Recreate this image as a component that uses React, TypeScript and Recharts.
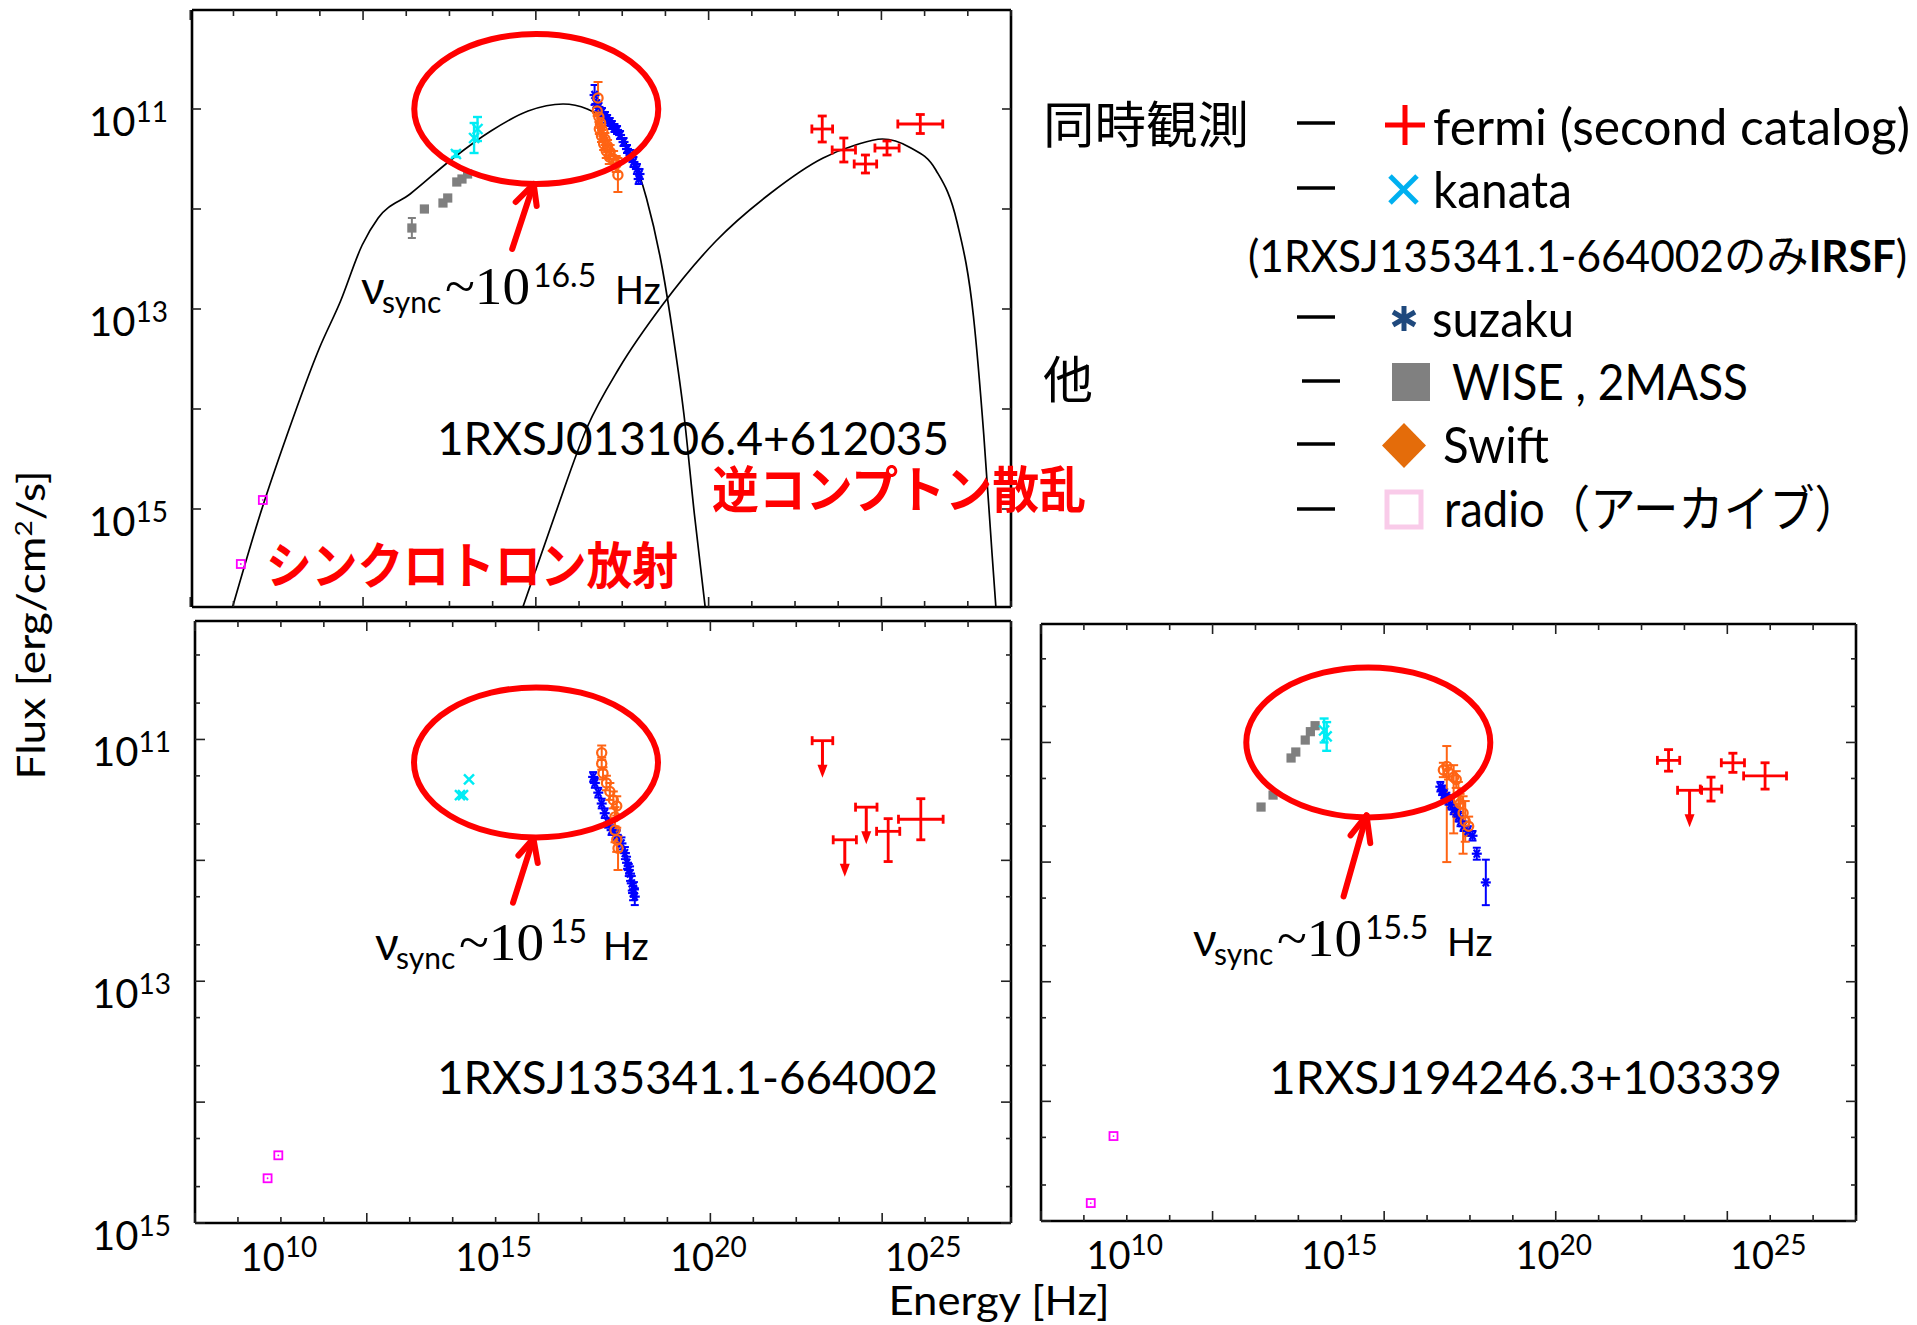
import React from 'react';
import { ComposedChart, Scatter, Line, XAxis, YAxis, ErrorBar, ReferenceDot } from 'recharts';

const W = 1917;
const H = 1325;
const LATIN = "Lato, 'Open Sans', 'DejaVu Sans', sans-serif";
const CJK = "'Noto Sans CJK JP', 'Noto Sans', sans-serif";
const SERIF = "'Liberation Serif', 'DejaVu Serif', serif";

// x: log10 frequency [Hz], y: log10 flux [erg/cm2/s]
// ex / ey: errors in decades (number = symmetric, [lower, upper] = asymmetric)

// ---------- 1RXSJ013106.4+612035 ----------
const topFermi = [
  { x: 22.63, y: -11.2, ex: 0.24, ey: 0.13 },
  { x: 23.13, y: -11.41, ex: 0.27, ey: 0.12 },
  { x: 23.63, y: -11.55, ex: 0.26, ey: 0.09 },
  { x: 24.13, y: -11.39, ex: 0.28, ey: 0.07 },
  { x: 24.9, y: -11.15, ex: 0.52, ey: 0.095 },
];
const topKanata = [
  { x: 14.15, y: -11.45, ey: 0.03 },
  { x: 14.57, y: -11.29, ey: 0.15 },
  { x: 14.65, y: -11.2, ey: 0.12 },
];
const topWise = [
  { x: 13.13, y: -12.19, ey: 0.1 },
  { x: 13.42, y: -12.0 },
  { x: 13.85, y: -11.94 },
  { x: 13.96, y: -11.89 },
  { x: 14.17, y: -11.73 },
  { x: 14.29, y: -11.7 },
  { x: 14.42, y: -11.65 },
];
const topSwift = [
  { x: 17.44, y: -10.89, ey: 0.16 },
  { x: 17.42, y: -11.02, ey: 0.05 },
  { x: 17.46, y: -11.08, ey: 0.05 },
  { x: 17.5, y: -11.14, ey: 0.05 },
  { x: 17.47, y: -11.2, ey: 0.05 },
  { x: 17.55, y: -11.22, ey: 0.05 },
  { x: 17.52, y: -11.27, ey: 0.06 },
  { x: 17.6, y: -11.3, ey: 0.06 },
  { x: 17.57, y: -11.35, ey: 0.06 },
  { x: 17.66, y: -11.37, ey: 0.06 },
  { x: 17.63, y: -11.42, ey: 0.07 },
  { x: 17.72, y: -11.43, ey: 0.07 },
  { x: 17.7, y: -11.48, ey: 0.07 },
  { x: 17.8, y: -11.5, ey: 0.08 },
  { x: 17.86, y: -11.55, ey: 0.08 },
  { x: 17.9, y: -11.66, ey: 0.17 },
];
const topSuzaku = [
  { x: 17.36, y: -10.86, ey: 0.1 },
  { x: 17.4, y: -10.95, ey: 0.04 },
  { x: 17.45, y: -10.98, ey: 0.04 },
  { x: 17.53, y: -11.03, ey: 0.04 },
  { x: 17.6, y: -11.07, ey: 0.04 },
  { x: 17.65, y: -11.1, ey: 0.04 },
  { x: 17.71, y: -11.13, ey: 0.04 },
  { x: 17.76, y: -11.16, ey: 0.04 },
  { x: 17.82, y: -11.19, ey: 0.04 },
  { x: 17.88, y: -11.21, ey: 0.04 },
  { x: 17.95, y: -11.26, ey: 0.04 },
  { x: 18.03, y: -11.33, ey: 0.04 },
  { x: 18.11, y: -11.4, ey: 0.04 },
  { x: 18.19, y: -11.46, ey: 0.05 },
  { x: 18.26, y: -11.53, ey: 0.05 },
  { x: 18.34, y: -11.6, ey: 0.05 },
  { x: 18.4, y: -11.65, ey: 0.05 },
  { x: 18.38, y: -11.7, ey: 0.05 },
];
const topRadio = [
  { x: 9.17, y: -15.55 },
  { x: 9.68, y: -14.91 },
];
const topSyncModel = [
  { x: 8.98, y: -15.98 }, { x: 9.62, y: -15.05 }, { x: 10.24, y: -14.26 }, { x: 10.99, y: -13.39 },
  { x: 11.48, y: -12.92 }, { x: 11.98, y: -12.36 }, { x: 12.35, y: -12.09 }, { x: 13.09, y: -11.85 },
  { x: 14.09, y: -11.49 }, { x: 14.96, y: -11.22 }, { x: 15.82, y: -11.02 }, { x: 16.63, y: -10.95 },
  { x: 17.19, y: -11.0 }, { x: 17.69, y: -11.14 }, { x: 18.18, y: -11.42 }, { x: 18.56, y: -11.89 },
  { x: 18.93, y: -12.6 }, { x: 19.18, y: -13.27 }, { x: 19.43, y: -14.06 }, { x: 19.67, y: -15.05 },
  { x: 19.92, y: -15.98 },
];
const topIcModel = [
  { x: 15.7, y: -15.98 }, { x: 16.45, y: -15.05 }, { x: 17.19, y: -14.18 }, { x: 17.93, y: -13.59 },
  { x: 18.93, y: -12.96 }, { x: 20.17, y: -12.32 }, { x: 21.41, y: -11.85 }, { x: 22.65, y: -11.49 },
  { x: 23.4, y: -11.36 }, { x: 24.02, y: -11.3 }, { x: 24.64, y: -11.38 }, { x: 25.26, y: -11.61 },
  { x: 25.75, y: -12.13 }, { x: 26.13, y: -13.07 }, { x: 26.37, y: -14.26 }, { x: 26.56, y: -15.44 },
  { x: 26.65, y: -15.98 },
];

// ---------- 1RXSJ135341.1-664002 ----------
const blFermi = [
  { x: 24.14, y: -11.76, ex: 0.27, ey: [0.25, 0.105] },
  { x: 24.9, y: -11.66, ex: 0.52, ey: 0.17 },
];
const blFermiUpper = [
  { x: 22.61, y: -11.01, ex: 0.24 },
  { x: 23.13, y: -11.83, ex: 0.27 },
  { x: 23.63, y: -11.56, ex: 0.25 },
];
const blKanata = [
  { x: 14.38, y: -11.33 },
  { x: 14.24, y: -11.46 },
  { x: 14.17, y: -11.46 },
];
const blSwift = [
  { x: 17.47, y: -11.11, ey: 0.06 },
  { x: 17.47, y: -11.2, ey: 0.05 },
  { x: 17.5, y: -11.28, ey: 0.05 },
  { x: 17.58, y: -11.36, ey: 0.06 },
  { x: 17.66, y: -11.43, ey: 0.07 },
  { x: 17.74, y: -11.5, ey: 0.07 },
  { x: 17.82, y: -11.55, ey: 0.08 },
  { x: 17.78, y: -11.64, ey: 0.08 },
  { x: 17.78, y: -11.75, ey: 0.1 },
  { x: 17.82, y: -11.83, ey: 0.1 },
  { x: 17.85, y: -11.9, ey: [0.18, 0.1] },
];
const blSuzaku = [
  { x: 17.27, y: -11.31, ey: 0.04 },
  { x: 17.31, y: -11.36, ey: 0.04 },
  { x: 17.39, y: -11.44, ey: 0.04 },
  { x: 17.47, y: -11.53, ey: 0.04 },
  { x: 17.54, y: -11.61, ey: 0.04 },
  { x: 17.62, y: -11.69, ey: 0.04 },
  { x: 17.7, y: -11.75, ey: 0.04 },
  { x: 17.82, y: -11.79, ey: 0.04 },
  { x: 17.93, y: -11.86, ey: 0.05 },
  { x: 18.01, y: -11.94, ey: 0.05 },
  { x: 18.06, y: -12.02, ey: 0.05 },
  { x: 18.1, y: -12.08, ey: 0.05 },
  { x: 18.13, y: -12.11, ey: 0.06 },
  { x: 18.17, y: -12.19, ey: 0.06 },
  { x: 18.2, y: -12.27, ey: 0.06 },
  { x: 18.22, y: -12.24, ey: 0.06 },
  { x: 18.24, y: -12.3, ey: 0.07 },
];
const blRadio = [
  { x: 9.69, y: -14.63 },
  { x: 9.94, y: -14.44 },
];

// ---------- 1RXSJ194246.3+103339 ----------
const brFermi = [
  { x: 22.63, y: -11.15, ex: 0.26, ey: 0.09 },
  { x: 23.62, y: -11.39, ex: 0.25, ey: 0.1 },
  { x: 24.13, y: -11.17, ex: 0.27, ey: 0.08 },
  { x: 24.88, y: -11.28, ex: 0.5, ey: 0.11 },
];
const brFermiUpper = [{ x: 23.12, y: -11.4, ex: 0.28 }];
const brKanata = [
  { x: 14.6, y: -10.9, ey: 0.1 },
  { x: 14.66, y: -10.95, ey: 0.12 },
];
const brWise = [
  { x: 13.13, y: -11.54 },
  { x: 13.41, y: -11.44 },
  { x: 13.83, y: -11.13 },
  { x: 13.94, y: -11.08 },
  { x: 14.16, y: -10.98 },
  { x: 14.28, y: -10.91 },
  { x: 14.39, y: -10.86 },
];
const brSwift = [
  { x: 17.46, y: -11.2, ey: [0.8, 0.17] },
  { x: 17.38, y: -11.23, ey: 0.06 },
  { x: 17.5, y: -11.25, ey: 0.06 },
  { x: 17.62, y: -11.29, ey: [0.47, 0.1] },
  { x: 17.68, y: -11.31, ey: 0.07 },
  { x: 17.73, y: -11.48, ey: 0.15 },
  { x: 17.77, y: -11.51, ey: 0.08 },
  { x: 17.84, y: -11.59, ey: [0.34, 0.14] },
  { x: 17.89, y: -11.66, ey: 0.17 },
  { x: 17.97, y: -11.7, ey: 0.08 },
];
const brSuzaku = [
  { x: 17.31, y: -11.37, ey: 0.04 },
  { x: 17.35, y: -11.4, ey: 0.04 },
  { x: 17.4, y: -11.43, ey: 0.04 },
  { x: 17.45, y: -11.46, ey: 0.04 },
  { x: 17.5, y: -11.48, ey: 0.04 },
  { x: 17.55, y: -11.52, ey: 0.04 },
  { x: 17.62, y: -11.56, ey: 0.04 },
  { x: 17.68, y: -11.58, ey: 0.04 },
  { x: 17.73, y: -11.62, ey: 0.04 },
  { x: 17.78, y: -11.66, ey: 0.04 },
  { x: 17.85, y: -11.7, ey: 0.04 },
  { x: 17.95, y: -11.74, ey: 0.04 },
  { x: 18.06, y: -11.78, ey: 0.04 },
  { x: 18.16, y: -11.93, ey: 0.05 },
  { x: 18.37, y: -12.17, ey: 0.19 },
];
const brRadio = [
  { x: 9.16, y: -14.85 },
  { x: 9.69, y: -14.29 },
];

// peak markers: ellipse centre and arrow tip (log ν, log flux)
const topPeakMark = { cx: 16.01, cy: -11.0, tipX: 15.95, tipY: -11.75 };
const blPeakMark = { cx: 15.94, cy: -11.19, tipX: 15.88, tipY: -11.82 };
const brPeakMark = { cx: 15.63, cy: -11.0, tipX: 15.59, tipY: -11.61 };

// axis ticks
const xTickValues = [8, 9, 10, 11, 12, 13, 14, 15, 16, 17, 18, 19, 20, 21, 22, 23, 24, 25, 26, 27];
const xLongTicks = [8, 12, 16, 20, 24];
const xTickLabels = [10, 15, 20, 25];
const yDecades = [-15, -14, -13, -12, -11];
const yMinorMultipliers = [2, 5];
const yTickLabels = [-15, -13, -11];

const bottomYTicks = yDecades
  .flatMap((d) => [d, ...yMinorMultipliers.map((m) => d + Math.log10(m))])
  .sort((a, b) => a - b);

const COL = {
  fermi: '#ff0000',
  kanata: '#00ecf4',
  suzaku: '#0000ff',
  swift: '#ff6414',
  wise: '#7f7f7f',
  radio: '#ff00ff',
  mark: '#ff0000',
};

type Frame = { left: number; top: number; right: number; bottom: number };

const isDecade = (v: number) => Math.abs(v - Math.round(v)) < 1e-6;

const xTickRenderer = (side: 'top' | 'bottom', showLabels: boolean) => (p: any) => {
  const v = p.payload.value;
  const len = xLongTicks.includes(v) ? 10 : 6;
  const dir = side === 'bottom' ? -1 : 1;
  return (
    <g>
      <line x1={p.x} y1={p.y} x2={p.x} y2={p.y + dir * len} stroke="#222" strokeWidth={1.6} />
      {showLabels && side === 'bottom' && xTickLabels.includes(v) && (
        <text x={p.x - 2} y={p.y + 48} textAnchor="middle" fontFamily={LATIN} fontSize={38} fill="#000">
          10<tspan dy={-14} fontSize={28}>{v}</tspan>
        </text>
      )}
    </g>
  );
};

const yTickRenderer = (side: 'left' | 'right', showLabels: boolean, minorStyle: boolean) => (p: any) => {
  const v = p.payload.value;
  const len = minorStyle ? (isDecade(v) ? 10 : 5) : 9;
  const dir = side === 'left' ? 1 : -1;
  const labelled = showLabels && side === 'left' && yTickLabels.some((t) => Math.abs(t - v) < 1e-6);
  return (
    <g>
      <line x1={p.x} y1={p.y} x2={p.x + dir * len} y2={p.y} stroke="#222" strokeWidth={1.6} />
      {labelled && (
        <text x={p.x - 24} y={p.y + 27} textAnchor="end" fontFamily={LATIN} fontSize={40} fill="#000">
          10<tspan dy={-14} fontSize={28}>{Math.round(-v)}</tspan>
        </text>
      )}
    </g>
  );
};

// marker shapes
const noMarker = () => <g />;

const upperLimitShape = (p: any) => (
  <g>
    <line x1={p.cx} y1={p.cy} x2={p.cx} y2={p.cy + 28} stroke={COL.fermi} strokeWidth={3} />
    <path d={`M${p.cx - 5},${p.cy + 24} L${p.cx + 5},${p.cy + 24} L${p.cx},${p.cy + 37} Z`} fill={COL.fermi} />
  </g>
);

const crossShape = (color: string, r: number, sw: number) => (p: any) => (
  <g stroke={color} strokeWidth={sw}>
    <line x1={p.cx - r} y1={p.cy - r} x2={p.cx + r} y2={p.cy + r} />
    <line x1={p.cx - r} y1={p.cy + r} x2={p.cx + r} y2={p.cy - r} />
  </g>
);

const asteriskShape = (color: string, r: number) => (p: any) => (
  <g stroke={color} strokeWidth={2.2}>
    <line x1={p.cx - r} y1={p.cy} x2={p.cx + r} y2={p.cy} />
    <line x1={p.cx - r * 0.6} y1={p.cy - r * 0.8} x2={p.cx + r * 0.6} y2={p.cy + r * 0.8} />
    <line x1={p.cx + r * 0.6} y1={p.cy - r * 0.8} x2={p.cx - r * 0.6} y2={p.cy + r * 0.8} />
  </g>
);

const circleShape = (p: any) => (
  <circle cx={p.cx} cy={p.cy} r={4.6} fill="none" stroke={COL.swift} strokeWidth={2.2} />
);

const squareShape = (p: any) => <rect x={p.cx - 4.6} y={p.cy - 4.6} width={9.2} height={9.2} fill={COL.wise} />;

const radioShape = (p: any) => (
  <g>
    <rect x={p.cx - 4} y={p.cy - 4} width={8} height={8} fill="none" stroke={COL.radio} strokeWidth={1.8} />
    <circle cx={p.cx} cy={p.cy} r={0.9} fill={COL.radio} />
  </g>
);

const ellipseShape = (p: any) => (
  <ellipse cx={p.cx} cy={p.cy} rx={122} ry={75} fill="none" stroke={COL.mark} strokeWidth={6} />
);

const arrowShape = (tail: number[], wingL: number[], wingR: number[]) => (p: any) => (
  <g stroke={COL.mark} strokeWidth={6} strokeLinecap="round" strokeLinejoin="round" fill="none">
    <line x1={p.cx + tail[0]} y1={p.cy + tail[1]} x2={p.cx} y2={p.cy} />
    <polyline points={`${p.cx + wingL[0]},${p.cy + wingL[1]} ${p.cx},${p.cy} ${p.cx + wingR[0]},${p.cy + wingR[1]}`} />
  </g>
);

const AX = { xAxisId: 'b', yAxisId: 'l' };

type PanelData = {
  fermi: any[];
  fermiUpper: any[];
  kanata: any[];
  wise: any[];
  swift: any[];
  suzaku: any[];
  radio: any[];
  sync?: any[];
  ic?: any[];
};

function Panel(props: {
  frame: Frame;
  xDomain: [number, number];
  yDomain: [number, number];
  yTicks: number[];
  minorY: boolean;
  showXLabels: boolean;
  showYLabels: boolean;
  data: PanelData;
  mark: { cx: number; cy: number; tipX: number; tipY: number };
  arrow: { tail: number[]; wingL: number[]; wingR: number[] };
}) {
  const { frame, xDomain, yDomain, yTicks, minorY, showXLabels, showYLabels, data, mark, arrow } = props;
  const axisLine = { stroke: '#000', strokeWidth: 2.6 };
  const common = { type: 'number' as const, allowDataOverflow: true, tickSize: 0, tickMargin: 0, interval: 0 as const };
  // each axis band is 1px wide, so the plot area lands exactly on the frame
  return (
    <div style={{ position: 'absolute', left: 0, top: 0 }}>
      <ComposedChart
        width={W}
        height={H}
        margin={{ top: frame.top - 1, left: frame.left - 1, right: W - frame.right - 1, bottom: H - frame.bottom - 1 }}
      >
        <XAxis xAxisId="b" orientation="bottom" dataKey="x" domain={xDomain} ticks={xTickValues} height={1}
          axisLine={axisLine} tickLine={false} tick={xTickRenderer('bottom', showXLabels)} {...common} />
        <XAxis xAxisId="t" orientation="top" dataKey="x" domain={xDomain} ticks={xTickValues} height={1}
          axisLine={axisLine} tickLine={false} tick={xTickRenderer('top', false)} {...common} />
        <YAxis yAxisId="l" orientation="left" dataKey="y" domain={yDomain} ticks={yTicks} width={1}
          axisLine={axisLine} tickLine={false} tick={yTickRenderer('left', showYLabels, minorY)} {...common} />
        <YAxis yAxisId="r" orientation="right" dataKey="y" domain={yDomain} ticks={yTicks} width={1}
          axisLine={axisLine} tickLine={false} tick={yTickRenderer('right', false, minorY)} {...common} />

        {data.sync && (
          <Line {...AX} data={data.sync} dataKey="y" type="monotone" dot={false} stroke="#000" strokeWidth={1.7}
            isAnimationActive={false} />
        )}
        {data.ic && (
          <Line {...AX} data={data.ic} dataKey="y" type="monotone" dot={false} stroke="#000" strokeWidth={1.7}
            isAnimationActive={false} />
        )}

        <Scatter {...AX} name="radio" data={data.radio} shape={radioShape} isAnimationActive={false} />
        <Scatter {...AX} name="WISE, 2MASS" data={data.wise} shape={squareShape} isAnimationActive={false}>
          <ErrorBar dataKey="ey" direction="y" width={4} stroke={COL.wise} strokeWidth={2} isAnimationActive={false} />
        </Scatter>
        <Scatter {...AX} name="kanata" data={data.kanata} shape={crossShape(COL.kanata, 5, 2.4)} isAnimationActive={false}>
          <ErrorBar dataKey="ey" direction="y" width={4.5} stroke={COL.kanata} strokeWidth={2.4} isAnimationActive={false} />
        </Scatter>
        <Scatter {...AX} name="suzaku" data={data.suzaku} shape={asteriskShape(COL.suzaku, 5)} isAnimationActive={false}>
          <ErrorBar dataKey="ey" direction="y" width={4} stroke={COL.suzaku} strokeWidth={2} isAnimationActive={false} />
        </Scatter>
        <Scatter {...AX} name="Swift" data={data.swift} shape={circleShape} isAnimationActive={false}>
          <ErrorBar dataKey="ey" direction="y" width={4.5} stroke={COL.swift} strokeWidth={2} isAnimationActive={false} />
        </Scatter>
        <Scatter {...AX} name="fermi" data={data.fermi} shape={noMarker} isAnimationActive={false}>
          <ErrorBar dataKey="ex" direction="x" width={4.5} stroke={COL.fermi} strokeWidth={2.8} isAnimationActive={false} />
          <ErrorBar dataKey="ey" direction="y" width={4.5} stroke={COL.fermi} strokeWidth={2.8} isAnimationActive={false} />
        </Scatter>
        <Scatter {...AX} name="fermi upper limit" data={data.fermiUpper} shape={upperLimitShape} isAnimationActive={false}>
          <ErrorBar dataKey="ex" direction="x" width={4.5} stroke={COL.fermi} strokeWidth={2.8} isAnimationActive={false} />
        </Scatter>

        <ReferenceDot {...AX} x={mark.cx} y={mark.cy} r={0} ifOverflow="visible" shape={ellipseShape} />
        <ReferenceDot {...AX} x={mark.tipX} y={mark.tipY} r={0} ifOverflow="visible"
          shape={arrowShape(arrow.tail, arrow.wingL, arrow.wingR)} />
      </ComposedChart>
    </div>
  );
}

function SyncLabel({ x, y, exp, expX, hzX }: { x: number; y: number; exp: string; expX: number; hzX: number }) {
  return (
    <g fill="#000">
      <text x={x} y={y} fontFamily={LATIN} fontSize={46}>ν</text>
      <text x={x + 21} y={y + 9} fontFamily={LATIN} fontSize={30}>sync</text>
      <text x={x + 84} y={y} fontFamily={SERIF} fontSize={52} textLength={85} lengthAdjust="spacingAndGlyphs">~10</text>
      <text x={expX} y={y - 17} fontFamily={LATIN} fontSize={32}>{exp}</text>
      <text x={hzX} y={y} fontFamily={LATIN} fontSize={38}>Hz</text>
    </g>
  );
}

function Annotations() {
  const dash = (y: number, x1 = 1297, x2 = 1335) => (
    <line x1={x1} y1={y} x2={x2} y2={y} stroke="#000" strokeWidth={3.5} />
  );
  return (
    <svg width={W} height={H} style={{ position: 'absolute', left: 0, top: 0 }}>
      {/* axis titles */}
      <text transform="translate(45,625) rotate(-90)" textAnchor="middle" fontFamily={LATIN} fontSize={38}
        textLength={309} lengthAdjust="spacingAndGlyphs" fill="#000">
        Flux [erg/cm<tspan dy={-13} fontSize={24}>2</tspan><tspan dy={13}>/s]</tspan>
      </text>
      <text x={999} y={1315} textAnchor="middle" fontFamily={LATIN} fontSize={40} textLength={221}
        lengthAdjust="spacingAndGlyphs" fill="#000">Energy [Hz]</text>

      {/* source names */}
      <text x={437} y={455} fontFamily={LATIN} fontSize={47} textLength={512} lengthAdjust="spacingAndGlyphs">
        1RXSJ013106.4+612035
      </text>
      <text x={437} y={1094} fontFamily={LATIN} fontSize={47} textLength={501} lengthAdjust="spacingAndGlyphs">
        1RXSJ135341.1-664002
      </text>
      <text x={1269} y={1094} fontFamily={LATIN} fontSize={47} textLength={513} lengthAdjust="spacingAndGlyphs">
        1RXSJ194246.3+103339
      </text>

      {/* emission components */}
      <text x={266} y={584} fontFamily={CJK} fontWeight={700} fontSize={50} fill="#ff0000" textLength={412}
        lengthAdjust="spacingAndGlyphs">シンクロトロン放射</text>
      <text x={712} y={508} fontFamily={CJK} fontWeight={700} fontSize={50} fill="#ff0000" textLength={374}
        lengthAdjust="spacingAndGlyphs">逆コンプトン散乱</text>

      {/* synchrotron peak frequencies */}
      <SyncLabel x={361} y={304} exp="16.5" expX={533} hzX={615} />
      <SyncLabel x={375} y={960} exp="15" expX={550} hzX={603} />
      <SyncLabel x={1193} y={956} exp="15.5" expX={1365} hzX={1447} />

      {/* legend */}
      <text x={1043} y={143} fontFamily={CJK} fontSize={50} textLength={206} lengthAdjust="spacingAndGlyphs">同時観測</text>
      <text x={1043} y={398} fontFamily={CJK} fontSize={50}>他</text>
      {dash(123)}
      {dash(188)}
      {dash(317)}
      {dash(381, 1302, 1340)}
      {dash(444)}
      {dash(509)}

      <g stroke={COL.fermi} strokeWidth={5}>
        <line x1={1385} y1={125} x2={1425} y2={125} />
        <line x1={1405} y1={105} x2={1405} y2={145} />
      </g>
      <g stroke="#00b0f0" strokeWidth={5}>
        <line x1={1390} y1={176} x2={1417} y2={203} />
        <line x1={1390} y1={203} x2={1417} y2={176} />
      </g>
      <g stroke="#1f497d" strokeWidth={5}>
        <line x1={1404} y1={306} x2={1404} y2={331} />
        <line x1={1393} y1={312} x2={1415} y2={325} />
        <line x1={1393} y1={325} x2={1415} y2={312} />
      </g>
      <rect x={1392} y={363} width={38} height={38} fill="#808080" />
      <path d="M1404,423 L1426,445.5 L1404,468 L1382,445.5 Z" fill="#e46c0a" />
      <rect x={1387} y={492} width={34} height={35} fill="#fff" stroke="#f9cbe9" strokeWidth={5} />

      <text x={1433} y={145} fontFamily={LATIN} fontSize={50} textLength={477} lengthAdjust="spacingAndGlyphs">
        fermi (second catalog)
      </text>
      <text x={1433} y={208} fontFamily={LATIN} fontSize={50} textLength={139} lengthAdjust="spacingAndGlyphs">kanata</text>
      <text x={1248} y={272} fontFamily={LATIN} fontSize={44} textLength={659} lengthAdjust="spacingAndGlyphs">
        (1RXSJ135341.1-664002<tspan fontFamily={CJK}>のみ</tspan><tspan fontWeight={700}>IRSF</tspan>)
      </text>
      <text x={1432} y={337} fontFamily={LATIN} fontSize={50} textLength={142} lengthAdjust="spacingAndGlyphs">suzaku</text>
      <text x={1452} y={400} fontFamily={LATIN} fontSize={50} textLength={296} lengthAdjust="spacingAndGlyphs">
        WISE , 2MASS
      </text>
      <text x={1443} y={463} fontFamily={LATIN} fontSize={50} textLength={106} lengthAdjust="spacingAndGlyphs">Swift</text>
      <text x={1444} y={527} fontFamily={LATIN} fontSize={50} textLength={416} lengthAdjust="spacingAndGlyphs">
        radio<tspan fontFamily={CJK}>（アーカイブ）</tspan>
      </text>
    </svg>
  );
}

export default function App() {
  return (
    <div style={{ position: 'absolute', left: 0, top: 0, width: W, height: H, background: '#fff', overflow: 'hidden' }}>
      <Panel
        frame={{ left: 192, top: 10, right: 1011, bottom: 607 }}
        xDomain={[8.04, 27]}
        yDomain={[-15.98, -10.01]}
        yTicks={yDecades}
        minorY={false}
        showXLabels={false}
        showYLabels={true}
        data={{ fermi: topFermi, fermiUpper: [], kanata: topKanata, wise: topWise, swift: topSwift, suzaku: topSuzaku,
          radio: topRadio, sync: topSyncModel, ic: topIcModel }}
        mark={topPeakMark}
        arrow={{ tail: [-21.5, 65], wingL: [-18, 18], wingR: [3, 22] }}
      />
      <Panel
        frame={{ left: 195, top: 621, right: 1011, bottom: 1223 }}
        xDomain={[8, 27]}
        yDomain={[-15, -10.02]}
        yTicks={bottomYTicks}
        minorY={true}
        showXLabels={true}
        showYLabels={true}
        data={{ fermi: blFermi, fermiUpper: blFermiUpper, kanata: blKanata, wise: [], swift: blSwift, suzaku: blSuzaku,
          radio: blRadio }}
        mark={blPeakMark}
        arrow={{ tail: [-20.4, 64], wingL: [-15, 17], wingR: [4.3, 24.5] }}
      />
      <Panel
        frame={{ left: 1041, top: 624, right: 1856, bottom: 1221 }}
        xDomain={[8, 27]}
        yDomain={[-15, -10.01]}
        yTicks={bottomYTicks}
        minorY={true}
        showXLabels={true}
        showYLabels={false}
        data={{ fermi: brFermi, fermiUpper: brFermiUpper, kanata: brKanata, wise: brWise, swift: brSwift, suzaku: brSuzaku,
          radio: brRadio }}
        mark={brPeakMark}
        arrow={{ tail: [-23, 81], wingL: [-16, 20], wingR: [3.7, 27.7] }}
      />
      <Annotations />
    </div>
  );
}
